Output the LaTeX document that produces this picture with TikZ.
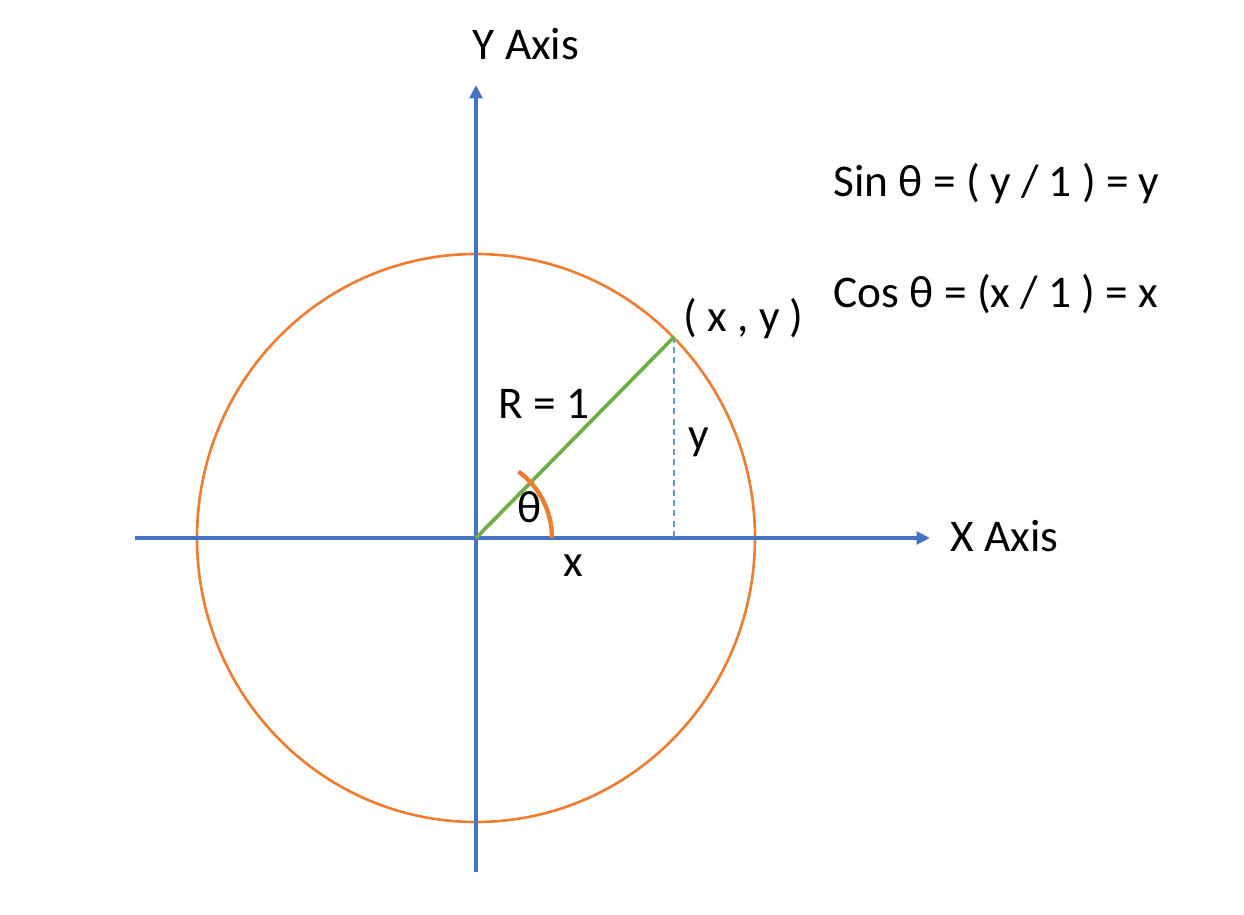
\documentclass[tikz,border=0pt]{standalone}
\usepackage{fontspec}
\setmainfont{Carlito}
\usepackage{tikz}
\usetikzlibrary{arrows.meta,positioning,calc}
\definecolor{axisblue}{RGB}{68,114,196}
\definecolor{circorange}{RGB}{237,125,49}
\definecolor{radgreen}{RGB}{112,173,71}
\definecolor{dropblue}{RGB}{91,155,213}
\tikzset{
  axisline/.style={-{Triangle[length=3.8pt,width=3.6pt]},line width=1.05pt,draw=axisblue},
  unitcirc/.style={line width=0.75pt,draw=circorange},
  radius line/.style={line width=1.05pt,draw=radgreen},
  anglearc/.style={line width=1.25pt,draw=circorange},
  dropline/.style={line width=0.45pt,draw=dropblue,dash pattern=on 1.7pt off 1.2pt},
  lab/.style={anchor=base west,inner sep=0pt,font=\fontsize{12.9}{15}\selectfont}
}

\begin{document}
\begin{tikzpicture}[x=0.01cm,y=0.01cm]
  \useasboundingbox (-476,-377) rectangle (768,538);

  \coordinate (O) at (0,0);
  \coordinate (xl) at (-341,0);
  \coordinate (xr) at (454,0);
  \coordinate (yb) at (0,-334);
  \coordinate (yt) at (0,453);
  \coordinate (P) at (198,201);
  \coordinate (F) at (198,0);
  \coordinate (A) at (76,0);

  % circle of radius one
  \draw[unitcirc] (O) ellipse[x radius=279,y radius=284];

  % axes
  \draw[axisline] (xl)--(xr);
  \draw[axisline] (yb)--(yt);

  % radius, drop line and angle
  \draw[dropline] (P)--(F);
  \draw[radius line] (O)--(P);
  \draw[anglearc] (A) arc[start angle=0,end angle=56,x radius=76,y radius=80];

  \node[lab] (ylab) at (-4,478) {Y Axis};
  \node[lab] (xlab) at (474,-14) {X Axis};
  \node[lab] (plab) at (207,206) {( x , y )};
  \node[lab] (rlab) at (22,119) {R = 1};
  \node[lab] (ylen) at (212,88) {y};
  \node[lab] (xlen) at (87,-39) {x};
  \node[lab] (thlab) at (41,15) {θ};

  \node[lab] (sinlab) at (357,341) {Sin θ = ( y / 1 ) = y};
  \node[lab] (coslab) at (357,230) {Cos θ = (x / 1 ) = x};
\end{tikzpicture}
\end{document}
